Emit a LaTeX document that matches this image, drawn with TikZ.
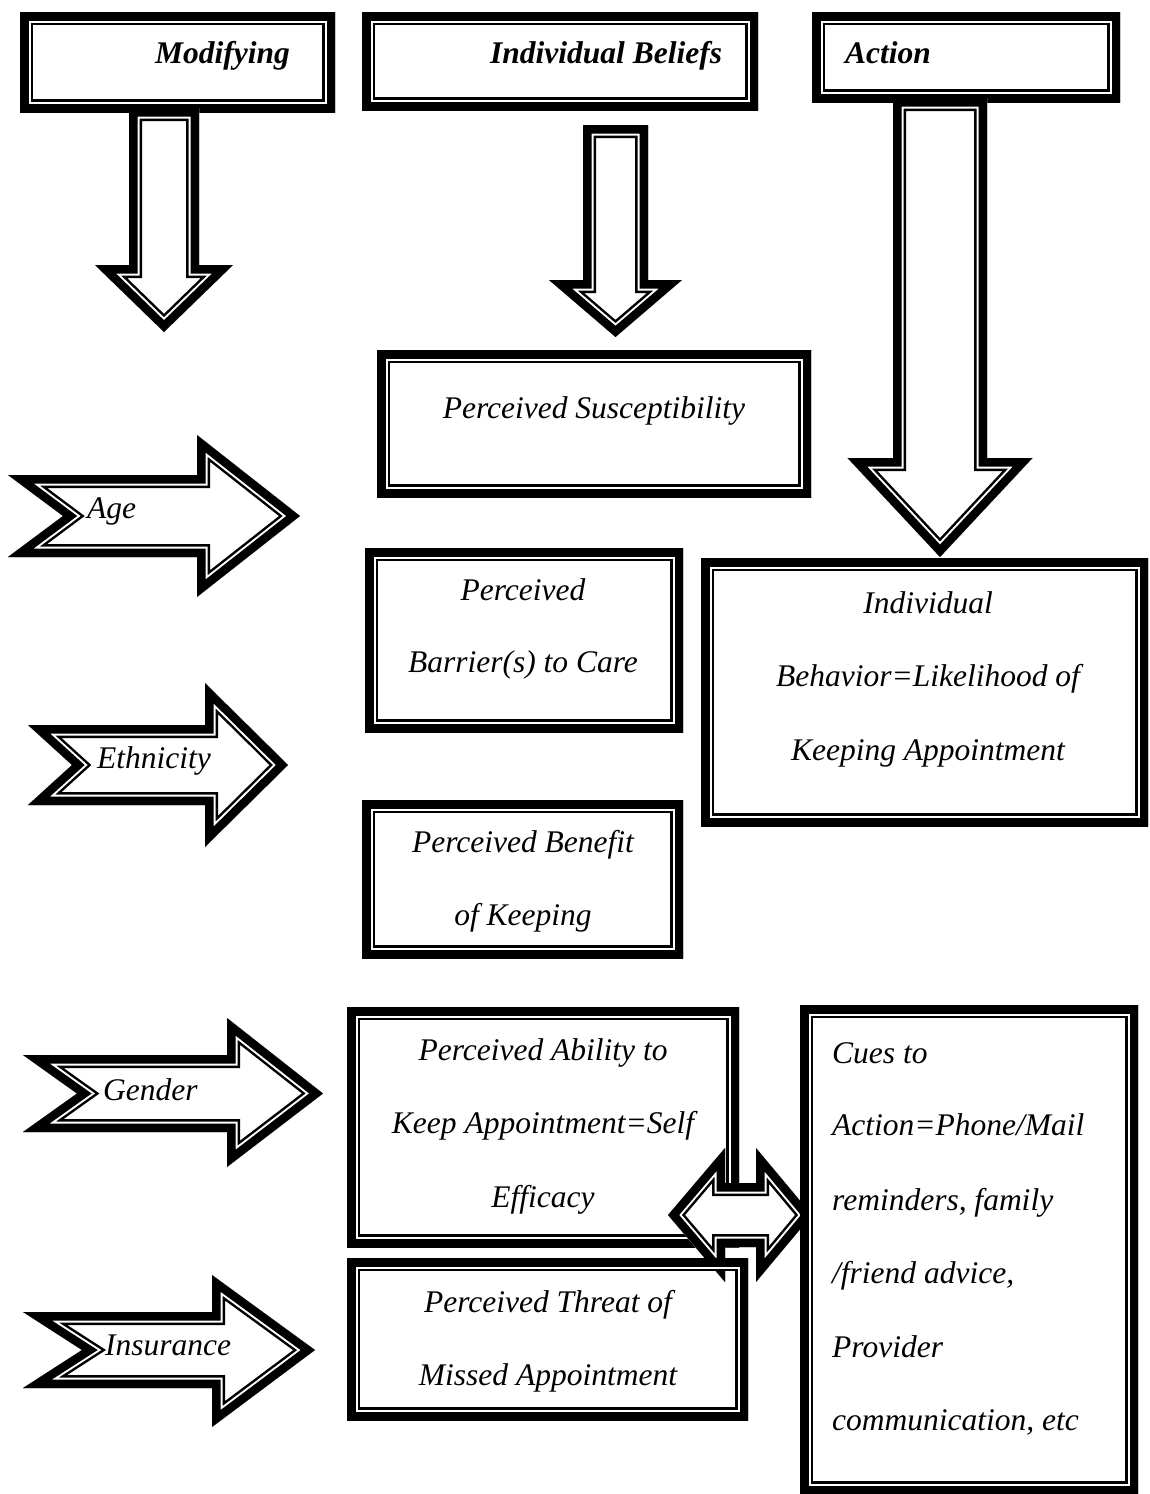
\documentclass[tikz,border=0pt]{standalone}
\usepackage{fontspec}
\setmainfont{Liberation Serif}
\tikzset{
  lbl/.style={inner sep=0pt, anchor=base, font=\fontsize{31.5}{36}\selectfont\itshape},
  lblw/.style={lbl, anchor=base west},
  hdr/.style={lblw, font=\fontsize{31.5}{36}\selectfont\bfseries\itshape},
}
% thick-thin border drawn inside a closed path
\newcommand\dblpath[2]{%
  \begin{scope}
    \path[fill=#1] #2;
    \clip #2;
    \draw[line width=26pt, miter limit=20] #2;
    \draw[white, line width=21pt, miter limit=20] #2;
    \draw[line width=17pt, miter limit=20] #2;
  \end{scope}}
\newcommand\dblbox[2]{\dblpath{none}{(#1) rectangle (#2)}}
% down arrow: cx, top, stem half width, head base y, head half width, tip y
\newcommand\downarr[6]{\dblpath{white}{(#1-#3,#2) -- (#1+#3,#2) -- (#1+#3,#4) -- (#1+#5,#4) -- (#1,#6) -- (#1-#5,#4) -- (#1-#3,#4) -- cycle}}
% right arrow: left x, stem top, stem bottom, notch x, head base x, head top, head bottom, tip x
\newcommand\rightarr[8]{\dblpath{white}{(#1,#2) -- (#5,#2) -- (#5,#6) -- (#8,{(#2+#3)/2}) -- (#5,#7) -- (#5,#3) -- (#1,#3) -- (#4,{(#2+#3)/2}) -- cycle}}
\begin{document}
\begin{tikzpicture}[x=1pt, y=-1pt]
\useasboundingbox (0,0) rectangle (1149,1494);
\fill[white] (0,0) rectangle (1149,1494);

% header boxes
\coordinate (modA) at (20,12);   \coordinate (modB) at (335,112);
\coordinate (belA) at (362,12);  \coordinate (belB) at (758,110);
\coordinate (actA) at (812,12);  \coordinate (actB) at (1120,102);
\dblbox{modA}{modB}
\dblbox{belA}{belB}
\dblbox{actA}{actB}
\node[hdr] (mod) at (155,63) {Modifying};
\node[hdr] (bel) at (490,63) {Individual Beliefs};
\node[hdr] (act) at (845,63) {Action};

% down arrows under the headers
\downarr{164}{108}{35}{265}{69}{332}
\downarr{615.5}{125}{32.5}{280}{66.5}{337}

% belief boxes
\coordinate (susA) at (377,350); \coordinate (susB) at (811,497);
\dblbox{susA}{susB}
\node[lbl] (sus) at (594,418) {Perceived Susceptibility};

\coordinate (barA) at (365,548); \coordinate (barB) at (683,732);
\dblbox{barA}{barB}
\node[lbl] (bar1) at (523,600) {Perceived};
\node[lbl] (bar2) at (523,672) {Barrier(s) to Care};

\coordinate (behA) at (701,558); \coordinate (behB) at (1148,826);
\dblbox{behA}{behB}
\node[lbl] (beh1) at (928,613) {Individual};
\node[lbl] (beh2) at (928,686) {Behavior=Likelihood of};
\node[lbl] (beh3) at (928,760) {Keeping Appointment};

% action arrow
\downarr{940}{98}{47}{458}{92.5}{557}

\coordinate (benA) at (362,800); \coordinate (benB) at (683,958);
\dblbox{benA}{benB}
\node[lbl] (ben1) at (523,852) {Perceived Benefit};
\node[lbl] (ben2) at (523,925) {of Keeping};

% modifying factor arrows
\rightarr{8}{475}{557}{63}{197}{435}{597}{300}
\node[lblw] (age) at (87,518) {Age};
\rightarr{28}{725}{805}{72}{205}{683}{847}{288}
\node[lblw] (eth) at (97,768) {Ethnicity};
\rightarr{23}{1055}{1132}{77}{227}{1018}{1167}{323}
\node[lblw] (gen) at (103,1100) {Gender};
\rightarr{23}{1312}{1388}{82}{212}{1275}{1427}{315}
\node[lblw] (ins) at (105,1355) {Insurance};

% lower boxes
\coordinate (ablA) at (347,1007); \coordinate (ablB) at (739,1247);
\dblbox{ablA}{ablB}
\node[lbl] (abl1) at (543,1060) {Perceived Ability to};
\node[lbl] (abl2) at (543,1133) {Keep Appointment=Self};
\node[lbl] (abl3) at (543,1207) {Efficacy};

% double arrow
\dblpath{white}{(668,1215) -- (725,1148) -- (725,1183) -- (756,1183) -- (756,1148) -- (812,1215) -- (756,1282) -- (756,1247) -- (725,1247) -- (725,1282) -- cycle}

\coordinate (thrA) at (347,1258); \coordinate (thrB) at (748,1420);
\dblbox{thrA}{thrB}
\node[lbl] (thr1) at (548,1312) {Perceived Threat of};
\node[lbl] (thr2) at (548,1385) {Missed Appointment};

\coordinate (cueA) at (800,1005); \coordinate (cueB) at (1138,1494);
\dblbox{cueA}{cueB}
\node[lblw] (cue1) at (832,1063) {Cues to};
\node[lblw] (cue2) at (832,1135) {Action=Phone/Mail};
\node[lblw] (cue3) at (832,1210) {reminders, family};
\node[lblw] (cue4) at (832,1283) {/friend advice,};
\node[lblw] (cue5) at (832,1357) {Provider};
\node[lblw] (cue6) at (832,1430) {communication, etc};
\end{tikzpicture}
\end{document}
